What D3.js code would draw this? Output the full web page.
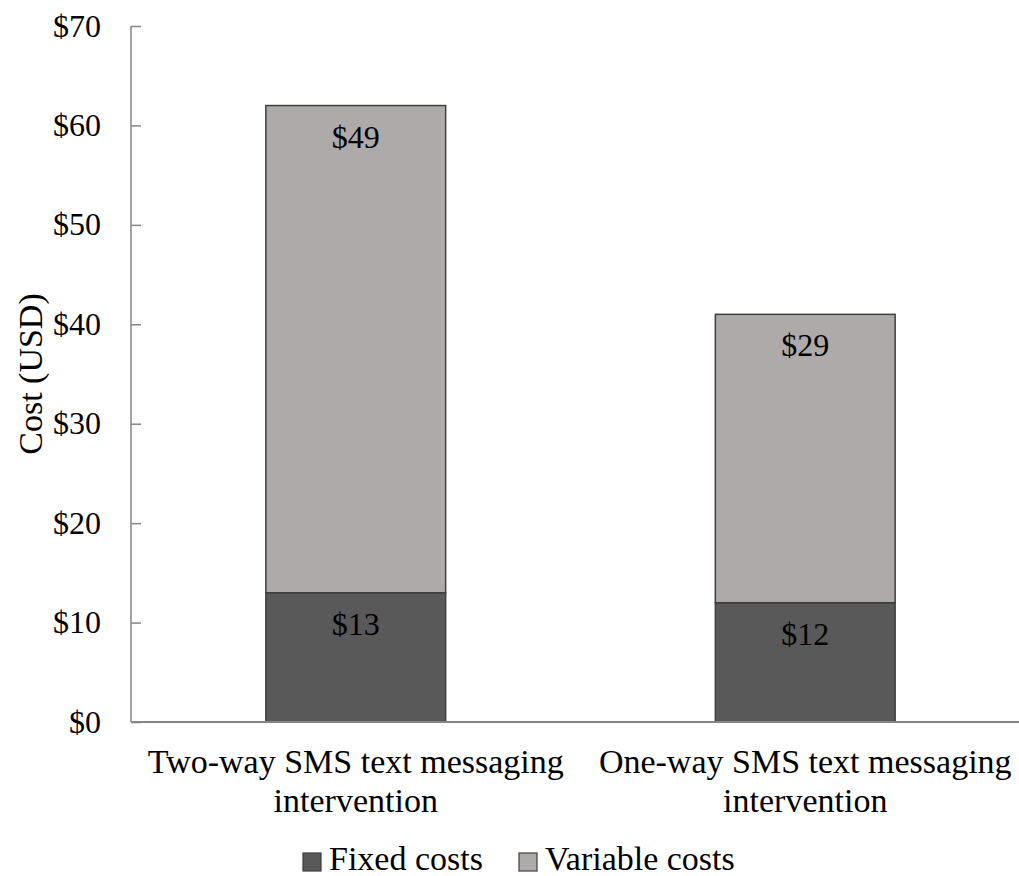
<!DOCTYPE html>
<html>
<head>
<meta charset="utf-8">
<script src="https://cdn.jsdelivr.net/npm/d3@7"></script>
<style>
  html, body { margin: 0; padding: 0; background: #fff; }
</style>
</head>
<body>
<svg id="chart" width="1019" height="876"></svg>
<script>
// Cost per participant by intervention, split into fixed and variable parts
const categories = [
  "Two-way SMS text messaging intervention",
  "One-way SMS text messaging intervention"
];
const fixedCosts = [13, 12];
const variableCosts = [49, 29];
const seriesNames = ["Fixed costs", "Variable costs"];
const seriesColors = ["#595959", "#AEAAAA"];
const yTicks = [0, 10, 20, 30, 40, 50, 60, 70];
const yTitle = "Cost (USD)";

const fontFamily = "'Liberation Serif', 'Times New Roman', 'DejaVu Serif', serif";
const numSize = 32;   // tick and value labels
const textSize = 34;  // category labels, axis title, legend
const svg = d3.select("#chart")
  .attr("font-family", fontFamily)
  .style("font-family", fontFamily);

const x = d3.scaleBand()
  .domain(categories)
  .range([131, 1030])
  .paddingInner(0.6)
  .paddingOuter(0.3);

const y = d3.scaleLinear()
  .domain([0, 70])
  .range([722, 26]);

const fmt = v => "$" + d3.format("d")(v);

// Stacked segments
const rows = categories.map((c, i) => ({ cat: c, fixed: fixedCosts[i], variable: variableCosts[i] }));
const stack = d3.stack().keys(["fixed", "variable"])(rows);

const layers = svg.append("g").selectAll("g")
  .data(stack)
  .join("g")
  .attr("fill", (d, i) => seriesColors[i]);

layers.selectAll("rect")
  .data(d => d)
  .join("rect")
  .attr("x", d => x(d.data.cat))
  .attr("width", x.bandwidth())
  .attr("y", d => y(d[1]))
  .attr("height", d => y(d[0]) - y(d[1]))
  .attr("stroke", "#3f3f3f")
  .attr("stroke-width", 1.5);

// Value labels, placed just inside the top of each segment
layers.selectAll("text")
  .data(d => d)
  .join("text")
  .attr("x", d => x(d.data.cat) + x.bandwidth() / 2)
  .attr("y", d => y(d[1]) + 42)
  .attr("text-anchor", "middle")
  .attr("font-size", numSize)
  .attr("fill", "#000")
  .text(d => fmt(d[1] - d[0]));

// Y axis
const yAxis = svg.append("g")
  .attr("transform", "translate(131,0)")
  .call(d3.axisRight(y).tickValues(yTicks).tickSize(10).tickFormat(""));
yAxis.select(".domain").attr("stroke", "#868686").attr("stroke-width", 1.5).attr("d", `M0,${y(70)}V${y(0)}`);
yAxis.selectAll(".tick line").attr("stroke", "#868686").attr("stroke-width", 1.5);

svg.append("g").selectAll("text")
  .data(yTicks)
  .join("text")
  .attr("x", 101)
  .attr("y", d => y(d))
  .attr("dy", "0.33em")
  .attr("text-anchor", "end")
  .attr("font-size", numSize)
  .text(fmt);

// X axis baseline
svg.append("line")
  .attr("x1", 131).attr("x2", 1030)
  .attr("y1", y(0)).attr("y2", y(0))
  .attr("stroke", "#868686")
  .attr("stroke-width", 2);

// Category labels, wrapped to the band width
const catLabels = svg.append("g").selectAll("text")
  .data(categories)
  .join("text")
  .attr("text-anchor", "middle")
  .attr("font-size", textSize);

catLabels.each(function(c) {
  const t = d3.select(this);
  const cx = x(c) + x.bandwidth() / 2;
  const maxW = x.step() * 0.98;
  const words = c.split(" ");
  let lines = [], line = [];
  const probe = t.append("tspan");
  words.forEach(w => {
    const trial = line.concat([w]).join(" ");
    probe.text(trial);
    if (probe.node().getComputedTextLength() > maxW && line.length) {
      lines.push(line.join(" "));
      line = [w];
    } else {
      line.push(w);
    }
  });
  lines.push(line.join(" "));
  probe.remove();
  lines.forEach((l, i) => {
    t.append("tspan").attr("x", cx).attr("y", 773 + i * 39).text(l);
  });
});

// Y axis title
svg.append("text")
  .attr("transform", `translate(42,${374}) rotate(-90)`)
  .attr("text-anchor", "middle")
  .attr("font-size", textSize)
  .text(yTitle);

// Legend
const legendX = [303, 519];
const legend = svg.append("g").selectAll("g")
  .data(seriesNames)
  .join("g")
  .attr("transform", (d, i) => `translate(${legendX[i]},853)`);
legend.append("rect")
  .attr("width", 18).attr("height", 18)
  .attr("fill", (d, i) => seriesColors[i])
  .attr("stroke", "#3f3f3f")
  .attr("stroke-width", 1.2);
legend.append("text")
  .attr("x", 26)
  .attr("y", 17)
  .attr("font-size", textSize)
  .text(d => d);
</script>
</body>
</html>
